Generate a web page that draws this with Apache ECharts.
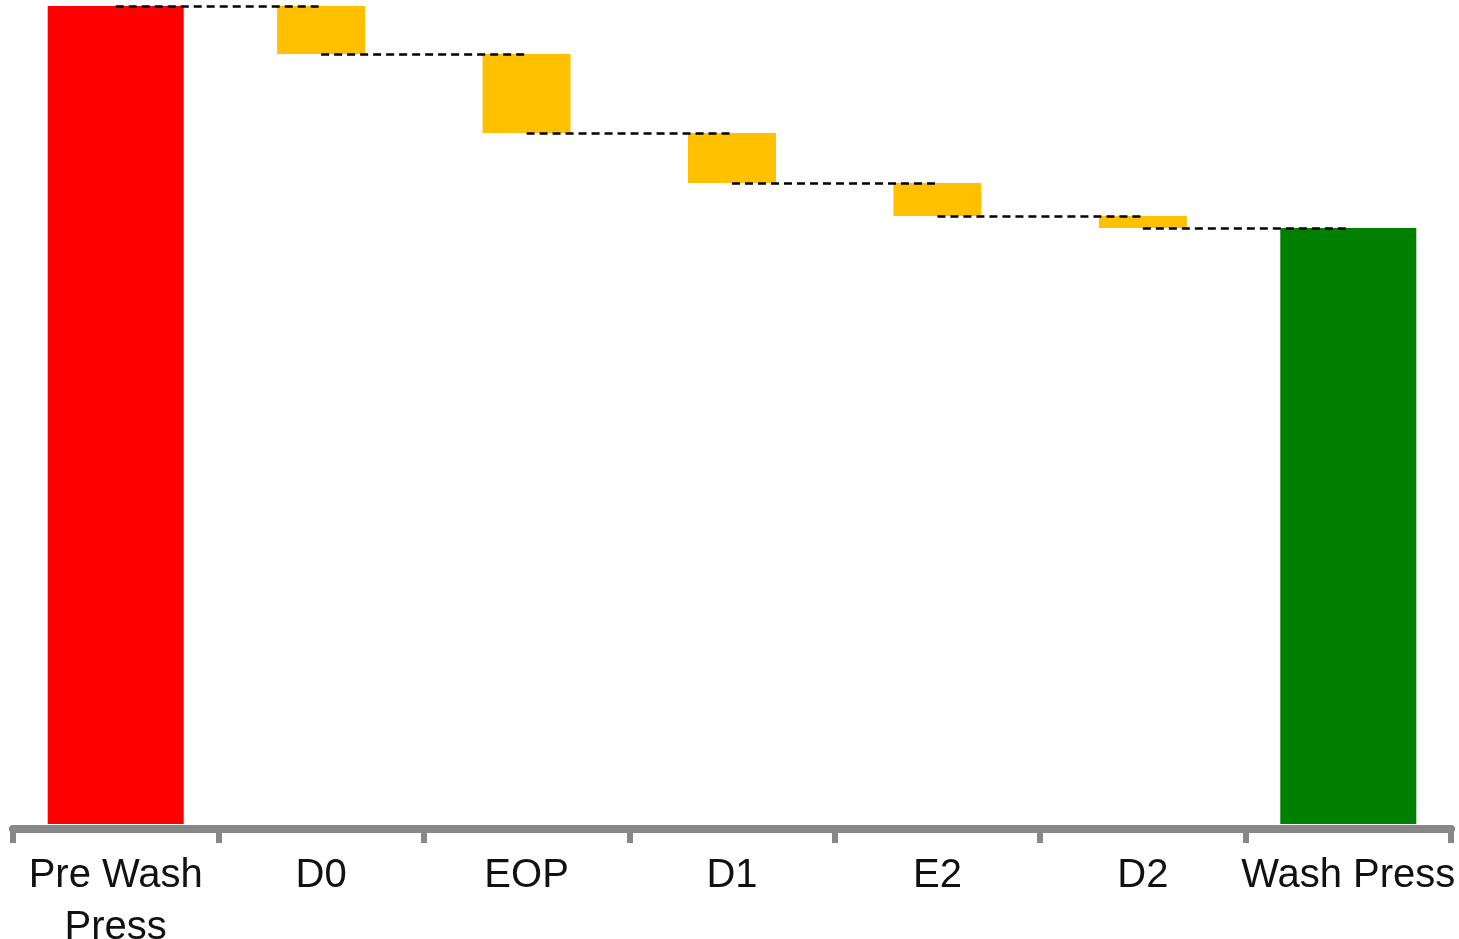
<!DOCTYPE html>
<html>
<head>
<meta charset="utf-8">
<script src="https://cdn.jsdelivr.net/npm/echarts@6/dist/echarts.min.js"></script>
<style>
html,body{margin:0;padding:0;background:#fff;}
#chart{width:1459px;height:939px;}
</style>
</head>
<body>
<div id="chart"></div>
<script>
const categories = ['Pre Wash Press', 'D0', 'EOP', 'D1', 'E2', 'D2', 'Wash Press'];
const startValue = 81.8;
const endValue = 59.6;
const decreases = [4.8, 7.9, 5.0, 3.3, 1.2];

// build series from the named arrays
const n = categories.length;
const totals = categories.map((c, i) => i === 0 ? startValue : (i === n - 1 ? endValue : '-'));
const bases = ['-'];
const deltas = ['-'];
const levels = [startValue];
let level = startValue;
decreases.forEach(d => {
  level = +(level - d).toFixed(3);
  bases.push(level);
  deltas.push(d);
  levels.push(level);
});
bases.push('-'); deltas.push('-');

const connectors = [];
for (let i = 0; i < n - 1; i++) {
  connectors.push([
    { coord: [categories[i], levels[i]] },
    { coord: [categories[i + 1], levels[i]] }
  ]);
}

const chart = echarts.init(document.getElementById('chart'));
chart.setOption({
  animation: false,
  backgroundColor: '#ffffff',
  grid: { left: 13, right: 8, top: 6, bottom: 115, containLabel: false, outerBoundsMode: 'none' },
  xAxis: [
    {
      type: 'category',
      data: categories,
      offset: 5,
      axisLine: { show: true, onZero: false, lineStyle: { color: '#878787', width: 8 } },
      axisTick: { show: true, length: 14, lineStyle: { color: '#878787', width: 6 } },
      axisLabel: {
        color: '#111111',
        fontFamily: '"Liberation Sans Narrow", "Arial Narrow", "Liberation Sans", Arial, sans-serif',
        fontSize: 40,
        lineHeight: 52,
        margin: 21,
        interval: 0,
        formatter: v => v === 'Pre Wash Press' ? 'Pre Wash\nPress' : v
      },
      splitLine: { show: false }
    },
    {
      type: 'category',
      data: categories,
      show: false
    }
  ],
  yAxis: {
    type: 'value',
    min: 0,
    max: startValue,
    show: false,
    splitLine: { show: false }
  },
  series: [
    {
      name: 'Total',
      type: 'bar',
      xAxisIndex: 0,
      barWidth: 136,
      data: totals.map((v, i) => v === '-' ? '-' : { value: v, itemStyle: { color: i === 0 ? '#ff0000' : '#007f00' } }),
      silent: true
    },
    {
      name: 'Base',
      type: 'bar',
      xAxisIndex: 1,
      stack: 'w',
      barWidth: 88,
      data: bases,
      itemStyle: { color: 'rgba(0,0,0,0)' },
      silent: true
    },
    {
      name: 'Decrease',
      type: 'bar',
      xAxisIndex: 1,
      stack: 'w',
      barWidth: 88,
      data: deltas,
      itemStyle: { color: '#ffc000' },
      silent: true,
      markLine: {
        silent: true,
        symbol: ['none', 'none'],
        label: { show: false },
        lineStyle: { color: '#000000', width: 2.5, type: [8, 5] },
        data: connectors
      }
    }
  ]
});
</script>
</body>
</html>
